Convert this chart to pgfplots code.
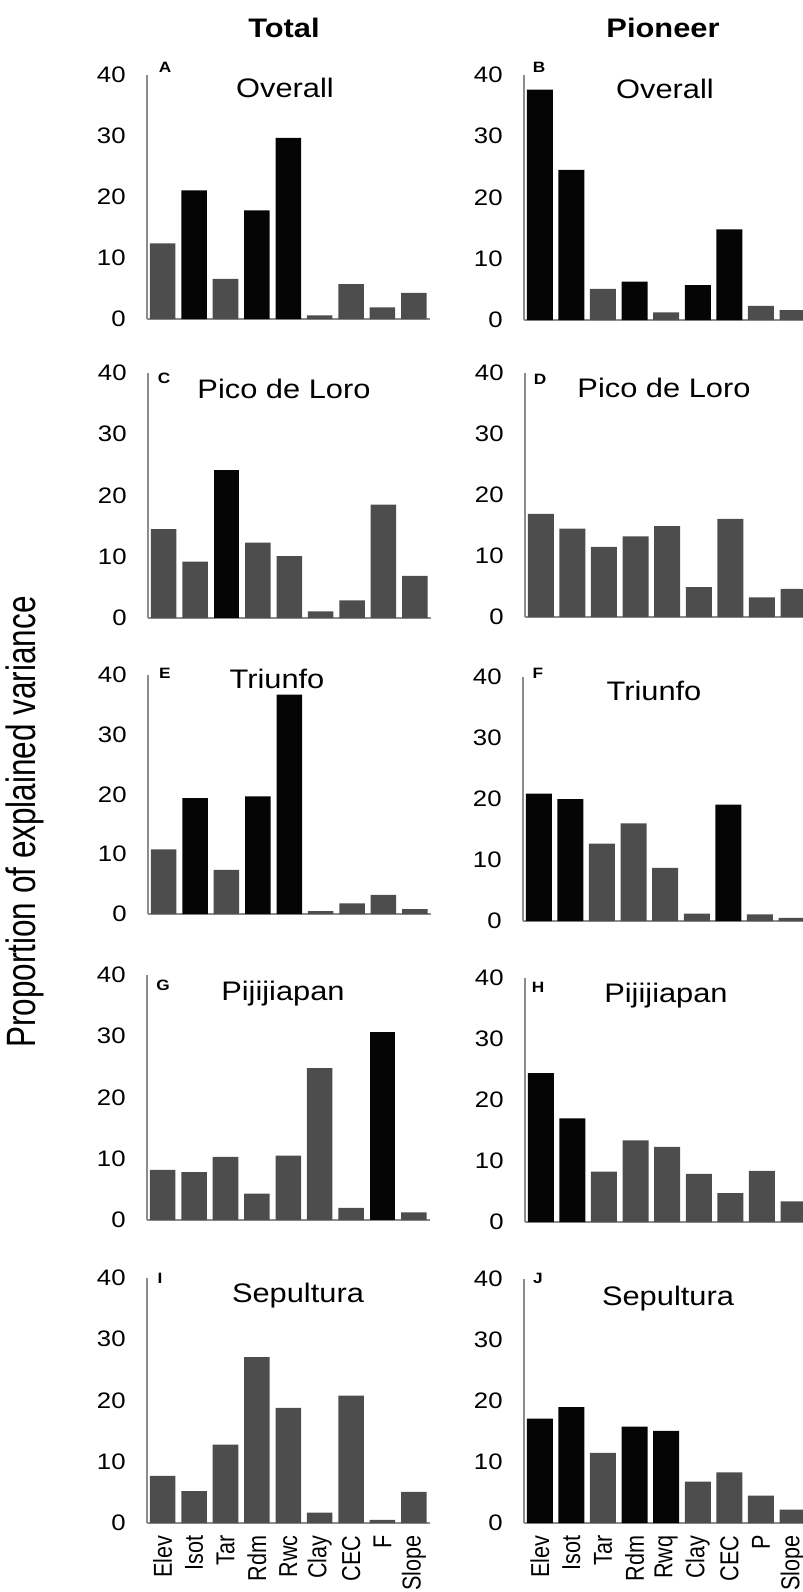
\documentclass[border=0pt]{standalone}
\usepackage{pgfplots}
\pgfplotsset{compat=1.18}
\usepackage{fontspec}
\setmainfont{Liberation Sans}[FakeStretch=1.15]
\newfontfamily\plainfont{Liberation Sans}
\usepackage{graphicx}
\definecolor{barblack}{HTML}{050505}
\definecolor{bargray}{HTML}{4D4D4D}
\definecolor{axgray}{HTML}{8C8C8C}
\newcommand{\vs}[1]{\scalebox{1}[1.2]{#1}}
\pgfplotsset{
 panel/.style={scale only axis, anchor=south west, xmin=0.5, xmax=9.5, ymin=0, ymax=40,
   axis lines*=left, axis line style={axgray, line width=0.75pt},
   ytick={0,10,20,30,40}, xtick=\empty, major tick length=0pt,
   /pgf/number format/assume math mode=true,
   yticklabel style={font=\fontsize{11.2}{12}\selectfont, inner sep=0pt, xshift=-10.5pt},
   clip=false},
 lcol/.style={width=141.3pt, bar width=12.75pt},
 rcol/.style={width=142.2pt, bar width=13pt},
 blk/.style={ybar, bar shift=0pt, fill=barblack, draw=none},
 gry/.style={ybar, bar shift=0pt, fill=bargray, draw=none},
 bottom/.style={xtick={1,...,9}, xticklabel shift=6pt,
   xticklabel style={font=\plainfont\fontsize{10.8}{12}\selectfont, rotate=90, anchor=east, inner sep=0pt}},
}
\tikzset{ptitle/.style={anchor=base, font=\fontsize{13.4}{15}\selectfont},
  plet/.style={anchor=base, font=\bfseries\fontsize{7.5}{8}\selectfont}}
\begin{document}
\begin{tikzpicture}
\useasboundingbox (0pt,0pt) rectangle (401.5pt,-796pt);
% ---------- A ----------
\begin{axis}[panel, lcol, at={(73.5pt,-159.5pt)}, height=122pt]
\addplot[gry] coordinates {(1,12.4) (3,6.6) (6,0.6) (7,5.7) (8,1.9) (9,4.3)};
\addplot[blk] coordinates {(2,21.1) (4,17.8) (5,29.7)};
\end{axis}
% ---------- B ----------
\begin{axis}[panel, rcol, at={(262pt,-160pt)}, height=122.5pt]
\addplot[gry] coordinates {(3,5.1) (5,1.25) (8,2.3) (9,1.6)};
\addplot[blk] coordinates {(1,37.6) (2,24.5) (4,6.25) (6,5.7) (7,14.8)};
\end{axis}
% ---------- C ----------
\begin{axis}[panel, lcol, at={(74pt,-309pt)}, height=122.5pt]
\addplot[gry] coordinates {(1,14.5) (2,9.2) (4,12.3) (5,10.1) (6,1.1) (7,2.9) (8,18.5) (9,6.9)};
\addplot[blk] coordinates {(3,24.1)};
\end{axis}
% ---------- D ----------
\begin{axis}[panel, rcol, at={(262.5pt,-308.5pt)}, height=122pt]
\addplot[gry] coordinates {(1,16.9) (2,14.5) (3,11.5) (4,13.2) (5,14.9) (6,4.9) (7,16.1) (8,3.2) (9,4.6)};
\end{axis}
% ---------- E ----------
\begin{axis}[panel, lcol, at={(74pt,-457pt)}, height=119.5pt]
\addplot[gry] coordinates {(1,10.8) (3,7.4) (6,0.5) (7,1.8) (8,3.2) (9,0.8)};
\addplot[blk] coordinates {(2,19.4) (4,19.7) (5,36.7)};
\end{axis}
% ---------- F ----------
\begin{axis}[panel, rcol, at={(261.5pt,-460.5pt)}, height=122pt]
\addplot[gry] coordinates {(3,12.7) (4,16.0) (5,8.7) (6,1.2) (8,1.1) (9,0.5)};
\addplot[blk] coordinates {(1,20.9) (2,20.0) (7,19.1)};
\end{axis}
% ---------- G ----------
\begin{axis}[panel, lcol, at={(73.5pt,-610pt)}, height=122.5pt]
\addplot[gry] coordinates {(1,8.2) (2,7.8) (3,10.3) (4,4.3) (5,10.5) (6,24.8) (7,2.0) (9,1.25)};
\addplot[blk] coordinates {(8,30.7)};
\end{axis}
% ---------- H ----------
\begin{axis}[panel, rcol, at={(262.5pt,-611pt)}, height=122pt]
\addplot[gry] coordinates {(3,8.25) (4,13.4) (5,12.3) (6,7.9) (7,4.75) (8,8.4) (9,3.4)};
\addplot[blk] coordinates {(1,24.4) (2,17.0)};
\end{axis}
% ---------- I ----------
\begin{axis}[panel, lcol, bottom, at={(73.5pt,-761.5pt)}, height=122.5pt,
  xticklabels={\vs{Elev},\vs{Isot},\vs{Tar},\vs{Rdm},\vs{Rwc},\vs{Clay},\vs{CEC},\vs{F},\vs{Slope}}]
\addplot[gry] coordinates {(1,7.7) (2,5.2) (3,12.8) (4,27.1) (5,18.8) (6,1.7) (7,20.8) (8,0.5) (9,5.1)};
\end{axis}
% ---------- J ----------
\begin{axis}[panel, rcol, bottom, at={(262pt,-761.5pt)}, height=122pt,
  xticklabels={\vs{Elev},\vs{Isot},\vs{Tar},\vs{Rdm},\vs{Rwq},\vs{Clay},\vs{CEC},\vs{P},\vs{Slope}}]
\addplot[gry] coordinates {(3,11.5) (6,6.8) (7,8.3) (8,4.5) (9,2.2)};
\addplot[blk] coordinates {(1,17.1) (2,19.0) (4,15.8) (5,15.1)};
\end{axis}
\begin{scope}[x=0.5pt, y=-0.5pt]
% ---------- titles ----------
\node[anchor=base, font=\bfseries\fontsize{13.4}{15}\selectfont] at (284,37) {Total};
\node[anchor=base, font=\bfseries\fontsize{13.4}{15}\selectfont] at (663,37) {Pioneer};
\node[ptitle] at (285,97) {Overall};
\node[ptitle] at (665,98) {Overall};
\node[ptitle] at (284,398) {Pico de Loro};
\node[ptitle] at (664,397) {Pico de Loro};
\node[ptitle] at (277,688) {Triunfo};
\node[ptitle] at (654,700) {Triunfo};
\node[ptitle] at (283,1000) {Pijijiapan};
\node[ptitle] at (666,1002) {Pijijiapan};
\node[ptitle] at (298,1302) {Sepultura};
\node[ptitle] at (668,1305) {Sepultura};
% ---------- panel letters ----------
\node[plet] at (165,72) {A};
\node[plet] at (539,72) {B};
\node[plet] at (164,383) {C};
\node[plet] at (540,384) {D};
\node[plet] at (165,678) {E};
\node[plet] at (538,678) {F};
\node[plet] at (163,990) {G};
\node[plet] at (538,992) {H};
\node[plet] at (160,1283) {I};
\node[plet] at (538,1283) {J};
% ---------- y label ----------
\node[rotate=90, font=\plainfont\fontsize{15.75}{18}\selectfont] at (25,822) {\scalebox{1}[1.3]{Proportion of explained variance}};
\end{scope}
\end{tikzpicture}
\end{document}
